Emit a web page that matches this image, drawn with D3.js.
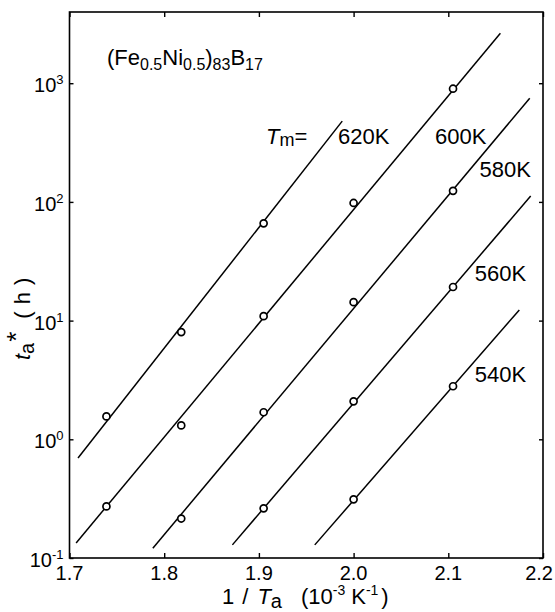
<!DOCTYPE html>
<html>
<head>
<meta charset="utf-8">
<script src="https://cdn.jsdelivr.net/npm/d3@7"></script>
<style>
  body { margin: 0; background: #fff; }
  svg { font-family: "Liberation Sans", Arial, sans-serif; }
</style>
</head>
<body>
<div id="chart"></div>
<script>
// series: measuring temperature Tm, points (1/Ta, ta*)
var seriesNames = ["620K", "600K", "580K", "560K", "540K"];
var pointsX = [
  [1.739, 1.818, 1.905],
  [1.739, 1.818, 1.905, 2.0, 2.105],
  [1.818, 1.905, 2.0, 2.105],
  [1.905, 2.0, 2.105],
  [2.0, 2.105]
];
var pointsY = [
  [1.56, 8.0, 66],
  [0.272, 1.31, 10.9, 98, 899],
  [0.215, 1.69, 14.3, 124],
  [0.262, 2.09, 19.2],
  [0.312, 2.8]
];
// fitted lines: [x0, y0, x1, y1]
var fitLines = [
  [1.709, 0.695, 1.988, 479],
  [1.707, 0.134, 2.155, 2637],
  [1.788, 0.121, 2.186, 748],
  [1.872, 0.129, 2.187, 112],
  [1.959, 0.129, 2.175, 12.3]
];
var xTicks = [1.7, 1.8, 1.9, 2.0, 2.1, 2.2];
var yTicks = [0.1, 1, 10, 100, 1000];
var yTickExp = ["-1", "0", "1", "2", "3"];

var W = 555, H = 612;
var pLeft = 69.5, pRight = 543, pTop = 12, pBottom = 558;

var svg = d3.select("#chart").append("svg")
    .attr("width", W)
    .attr("height", H);

var x = d3.scaleLinear().domain([1.7, 2.2]).range([pLeft, pRight]);
var y = d3.scaleLog().domain([0.1, Math.pow(10, 3.6)]).range([pBottom, pTop]);

// axes with inward ticks
var xAxisB = d3.axisBottom(x).tickValues(xTicks).tickSize(-5).tickSizeOuter(0).tickFormat("");
var xAxisT = d3.axisTop(x).tickValues(xTicks).tickSize(-5).tickSizeOuter(0).tickFormat("");
var yAxisL = d3.axisLeft(y).tickValues(yTicks).tickSize(-4).tickSizeOuter(0).tickFormat("");
var yAxisR = d3.axisRight(y).tickValues(yTicks).tickSize(-4).tickSizeOuter(0).tickFormat("");

svg.append("g").attr("transform", "translate(0," + pBottom + ")").call(xAxisB);
svg.append("g").attr("transform", "translate(0," + pTop + ")").call(xAxisT);
svg.append("g").attr("transform", "translate(" + pLeft + ",0)").call(yAxisL);
svg.append("g").attr("transform", "translate(" + pRight + ",0)").call(yAxisR);
svg.selectAll(".domain").remove();
svg.selectAll(".tick line").attr("stroke", "#000").attr("stroke-width", 1.4);

svg.append("rect")
    .attr("x", pLeft).attr("y", pTop)
    .attr("width", pRight - pLeft).attr("height", pBottom - pTop)
    .attr("fill", "none").attr("stroke", "#000").attr("stroke-width", 1.6);

// x tick labels (last one kept inside the page)
svg.selectAll(".xlab").data(xTicks).enter().append("text")
    .attr("class", "xlab")
    .attr("x", function(d, i) { return i === xTicks.length - 1 ? W - 2 : x(d); })
    .attr("y", pBottom + 22)
    .attr("text-anchor", function(d, i) { return i === xTicks.length - 1 ? "end" : "middle"; })
    .attr("font-size", 20)
    .text(function(d) { return d.toFixed(1); });

// y tick labels 10^n
var ylab = svg.selectAll(".ylab").data(yTicks).enter().append("text")
    .attr("class", "ylab")
    .attr("x", pLeft - 6)
    .attr("y", function(d) { return y(d) + 9; })
    .attr("text-anchor", "end")
    .attr("font-size", 20);
ylab.append("tspan").text("10");
ylab.append("tspan")
    .attr("font-size", 13)
    .attr("dy", -8)
    .text(function(d, i) { return yTickExp[i]; });

// fitted lines
svg.selectAll(".fit").data(fitLines).enter().append("line")
    .attr("class", "fit")
    .attr("x1", function(d) { return x(d[0]); })
    .attr("y1", function(d) { return y(d[1]); })
    .attr("x2", function(d) { return x(d[2]); })
    .attr("y2", function(d) { return y(d[3]); })
    .attr("stroke", "#000")
    .attr("stroke-width", 1.5);

// data points
var pts = [];
pointsX.forEach(function(xs, i) {
  xs.forEach(function(v, j) { pts.push([v, pointsY[i][j]]); });
});
svg.selectAll(".pt").data(pts).enter().append("circle")
    .attr("class", "pt")
    .attr("cx", function(d) { return x(d[0]); })
    .attr("cy", function(d) { return y(d[1]); })
    .attr("r", 3.5)
    .attr("fill", "#fff")
    .attr("stroke", "#000")
    .attr("stroke-width", 1.7);

// series labels
var labelAt = [[1.9835, 310], [2.086, 310], [2.133, 162], [2.128, 21.5], [2.128, 3.04]];
svg.selectAll(".slab").data(seriesNames).enter().append("text")
    .attr("class", "slab")
    .attr("x", function(d, i) { return x(labelAt[i][0]); })
    .attr("y", function(d, i) { return y(labelAt[i][1]); })
    .attr("font-size", 22)
    .text(function(d) { return d; });

// Tm =
var tm = svg.append("text")
    .attr("x", x(1.9835) - 72)
    .attr("y", y(310))
    .attr("font-size", 22);
tm.append("tspan").attr("font-style", "italic").text("T");
tm.append("tspan").attr("font-size", 18).attr("dy", 2).text("m");
tm.append("tspan").attr("dy", -2).text("=");

// composition title
var title = svg.append("text")
    .attr("x", 107).attr("y", 65)
    .attr("font-size", 22);
title.append("tspan").text("(Fe");
title.append("tspan").attr("font-size", 16).attr("dy", 5).text("0.5");
title.append("tspan").attr("dy", -5).text("Ni");
title.append("tspan").attr("font-size", 16).attr("dy", 5).text("0.5");
title.append("tspan").attr("dy", -5).text(")");
title.append("tspan").attr("font-size", 16).attr("dy", 5).text("83");
title.append("tspan").attr("dy", -5).text("B");
title.append("tspan").attr("font-size", 16).attr("dy", 5).text("17");

// x axis title
var xt = svg.append("text")
    .attr("x", 222).attr("y", 604)
    .attr("font-size", 22);
xt.append("tspan").text("1");
xt.append("tspan").attr("dx", 8).text("/");
xt.append("tspan").attr("dx", 9).attr("font-style", "italic").text("T");
xt.append("tspan").attr("font-size", 20).attr("dy", 4).text("a");
xt.append("tspan").attr("dx", 19).attr("dy", -4).text("(10");
xt.append("tspan").attr("font-size", 14).attr("dy", -9).text("-3");
xt.append("tspan").attr("dx", 6).attr("dy", 9).text("K");
xt.append("tspan").attr("font-size", 14).attr("dy", -9).text("-1");
xt.append("tspan").attr("dx", 3).attr("dy", 9).text(")");

// y axis title
var yt = svg.append("text")
    .attr("transform", "translate(30,360) rotate(-90)")
    .attr("font-size", 22);
yt.append("tspan").attr("font-style", "italic").text("t");
yt.append("tspan").attr("font-size", 20).attr("dy", 4).text("a");
yt.append("tspan").attr("font-size", 26).attr("dx", 1).attr("dy", -9).text("*");
yt.append("tspan").attr("dx", 13).attr("dy", 5).text("(");
yt.append("tspan").attr("dx", 7).text("h");
yt.append("tspan").attr("dx", 7).text(")");
</script>
</body>
</html>
